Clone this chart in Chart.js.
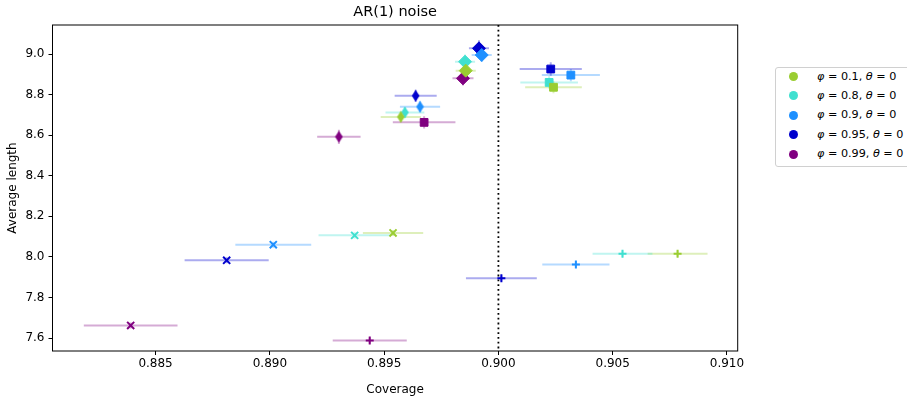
<!DOCTYPE html>
<html>
<head>
<meta charset="utf-8">
<script src="https://cdn.jsdelivr.net/npm/chart.js@4.4.1/dist/chart.umd.min.js"></script>
<style>
	html, body { margin: 0; padding: 0; background: #fff; overflow: hidden; }
	#wrap { position: relative; width: 907px; height: 397px; }
	#legend {
		position: absolute; left: 775px; top: 67px; width: 200px; height: 98px;
		border: 1px solid #d0d0d0; border-radius: 3px; background: #fff;
		font-family: 'DejaVu Sans'; font-size: 11.2px; color: #000;
	}
	#legend .dot { position: absolute; width: 9px; height: 9px; border-radius: 50%; }
	#legend .lbl { position: absolute; white-space: nowrap; line-height: 14px; }
	#legend i { font-style: italic; }
</style>
</head>
<body>
<div id="wrap">
	<canvas id="chart_ar1" width="907" height="397"></canvas>
	<div id="legend"></div>
</div>
<script>
//Series (one per phi), each with five methods drawn with different markers
const phiValues = ['0.1', '0.8', '0.9', '0.95', '0.99'];
const seriesColors = ['#9acd32', '#40e0d0', '#1e90ff', '#0000cd', '#800080'];

//Coverage / average length per method, index = phi series
const squareCov = [0.90241, 0.90222, 0.90317, 0.90229, 0.89675];
const squareLen = [8.836, 8.860, 8.896, 8.926, 8.663];
const squareCovErr = [0.00124, 0.00126, 0.00127, 0.00136, 0.00137];
const squareLenErr = [0.03, 0.03, 0.03, 0.033, 0.03];

const diamondCov = [0.89857, 0.89854, 0.89927, 0.89915, 0.89845];
const diamondLen = [8.918, 8.962, 8.995, 9.028, 8.880];
const diamondCovErr = [0.00044, 0.00044, 0.00044, 0.00044, 0.00046];
const diamondLenErr = [0.035, 0.035, 0.035, 0.04, 0.035];

const thinCov = [0.89573, 0.89591, 0.89657, 0.89638, 0.89302];
const thinLen = [8.690, 8.712, 8.740, 8.794, 8.592];
const thinCovErr = [0.00088, 0.00085, 0.00088, 0.00092, 0.00095];
const thinLenErr = [0.027, 0.027, 0.027, 0.03, 0.035];

const xCov = [0.89539, 0.89371, 0.89015, 0.88811, 0.88391];
const xLen = [8.118, 8.106, 8.060, 7.983, 7.662];
const xCovErr = [0.00132, 0.00158, 0.00166, 0.00184, 0.00205];
const xLenErr = [0.015, 0.015, 0.015, 0.015, 0.015];

const plusCov = [0.90784, 0.90543, 0.90339, 0.90013, 0.89437];
const plusLen = [8.016, 8.016, 7.963, 7.895, 7.588];
const plusCovErr = [0.00131, 0.00131, 0.00147, 0.00155, 0.00162];
const plusLenErr = [0.015, 0.015, 0.015, 0.015, 0.015];

const xTicks = [0.885, 0.890, 0.895, 0.900, 0.905, 0.910];
const yTicks = [7.6, 7.8, 8.0, 8.2, 8.4, 8.6, 8.8, 9.0];
const targetCoverage = 0.900;

function hexAlpha(hex, a) {
	const n = parseInt(hex.slice(1), 16);
	return 'rgba(' + (n >> 16) + ',' + ((n >> 8) & 255) + ',' + (n & 255) + ',' + a + ')';
}

//matplotlib 'd' marker (thin diamond) as an image
function thinDiamond(color) {
	const c = document.createElement('canvas');
	c.width = 9; c.height = 13;
	const ctx = c.getContext('2d');
	ctx.fillStyle = color;
	ctx.beginPath();
	ctx.moveTo(4.5, 0.5); ctx.lineTo(8.3, 6.5); ctx.lineTo(4.5, 12.5); ctx.lineTo(0.7, 6.5);
	ctx.closePath();
	ctx.fill();
	return c;
}

const datasets = phiValues.map(function(phi, i) {
	const col = seriesColors[i];
	return {
		label: 'phi = ' + phi + ', theta = 0',
		data: [
			{x: squareCov[i], y: squareLen[i], xe: squareCovErr[i], ye: squareLenErr[i]},
			{x: diamondCov[i], y: diamondLen[i], xe: diamondCovErr[i], ye: diamondLenErr[i]},
			{x: thinCov[i], y: thinLen[i], xe: thinCovErr[i], ye: thinLenErr[i]},
			{x: xCov[i], y: xLen[i], xe: xCovErr[i], ye: xLenErr[i]},
			{x: plusCov[i], y: plusLen[i], xe: plusCovErr[i], ye: plusLenErr[i]}
		],
		pointStyle: ['rect', 'rectRot', thinDiamond(col), 'crossRot', 'cross'],
		pointRadius: [5.5, 6.5, 6, 5, 4],
		pointBorderWidth: [1, 1, 0, 2, 2],
		backgroundColor: col,
		borderColor: col,
		pointHoverRadius: [5.5, 6.5, 6, 5, 4]
	};
});

//error bars + dotted target line, behind the markers
const errorBars = {
	id: 'errorBars',
	beforeDatasetsDraw(chart) {
		const ctx = chart.ctx;
		const xs = chart.scales.x, ys = chart.scales.y;
		const area = chart.chartArea;
		ctx.save();
		ctx.beginPath();
		ctx.rect(area.left, area.top, area.width, area.height);
		ctx.clip();
		chart.data.datasets.forEach(function(ds, i) {
			ctx.strokeStyle = hexAlpha(seriesColors[i], 0.33);
			ctx.lineWidth = 2;
			ds.data.forEach(function(p) {
				const py = ys.getPixelForValue(p.y);
				const px = xs.getPixelForValue(p.x);
				ctx.beginPath();
				ctx.moveTo(xs.getPixelForValue(p.x - p.xe), py);
				ctx.lineTo(xs.getPixelForValue(p.x + p.xe), py);
				ctx.moveTo(px, ys.getPixelForValue(p.y - p.ye));
				ctx.lineTo(px, ys.getPixelForValue(p.y + p.ye));
				ctx.stroke();
			});
		});
		const tx = xs.getPixelForValue(targetCoverage);
		ctx.strokeStyle = '#000';
		ctx.lineWidth = 1.8;
		ctx.setLineDash([1.8, 3]);
		ctx.beginPath();
		ctx.moveTo(tx, area.top);
		ctx.lineTo(tx, area.bottom);
		ctx.stroke();
		ctx.restore();
	},
	afterDatasetsDraw(chart) {
		const ctx = chart.ctx;
		const a = chart.chartArea;
		ctx.save();
		ctx.strokeStyle = '#000';
		ctx.lineWidth = 1;
		ctx.strokeRect(a.left, a.top, a.width, a.height);
		ctx.restore();
	}
};

Chart.defaults.font.family = 'DejaVu Sans';
Chart.defaults.color = '#000';

const chart_ar1 = new Chart(document.getElementById('chart_ar1'), {
	type: 'scatter',
	data: { datasets: datasets },
	options: {
		responsive: false,
		animation: false,
		layout: { padding: { left: 0, right: 169.3, top: 0, bottom: 0 } },
		plugins: {
			legend: { display: false },
			tooltip: { enabled: false },
			title: {
				display: true,
				text: 'AR(1) noise',
				fullSize: false,
				color: '#000',
				font: { size: 14.5, weight: 'normal' },
				padding: { top: 3.3, bottom: 4.3 }
			}
		},
		scales: {
			x: {
				type: 'linear',
				min: 0.88049,
				max: 0.91047,
				afterBuildTicks: function(scale) { scale.ticks = xTicks.map(v => ({value: v})); },
				afterFit: function(scale) { scale.height = 46; },
				ticks: { callback: v => v.toFixed(3), font: { size: 12 }, padding: 2, maxRotation: 0, autoSkip: false },
				grid: { drawOnChartArea: false, color: '#000', tickLength: 4 },
				border: { display: false },
				title: { display: true, text: 'Coverage', font: { size: 12 }, padding: { top: 0, bottom: 0 } }
			},
			y: {
				type: 'linear',
				min: 7.536,
				max: 9.143,
				afterBuildTicks: function(scale) { scale.ticks = yTicks.map(v => ({value: v})); },
				afterFit: function(scale) { scale.width = 52.5; },
				ticks: { callback: v => v.toFixed(1), font: { size: 12 }, padding: 4, autoSkip: false },
				grid: { drawOnChartArea: false, color: '#000', tickLength: 4 },
				border: { display: false },
				title: { display: true, text: 'Average length', font: { size: 12 }, padding: { top: 6, bottom: 0 } }
			}
		}
	},
	plugins: [errorBars]
});

//Legend with math-style labels
const legend = document.getElementById('legend');
phiValues.forEach(function(phi, i) {
	const cy = 9.5 + 19.4 * i;
	const dot = document.createElement('div');
	dot.className = 'dot';
	dot.style.left = (18 - 1 - 4.5) + 'px';
	dot.style.top = (cy - 1 - 4.5) + 'px';
	dot.style.background = seriesColors[i];
	legend.appendChild(dot);
	const lbl = document.createElement('div');
	lbl.className = 'lbl';
	lbl.style.left = (42 - 1) + 'px';
	lbl.style.top = (cy - 1 - 7) + 'px';
	lbl.innerHTML = '<i>φ</i> = ' + phi + ', <i>θ</i> = 0';
	legend.appendChild(lbl);
});
</script>
</body>
</html>
